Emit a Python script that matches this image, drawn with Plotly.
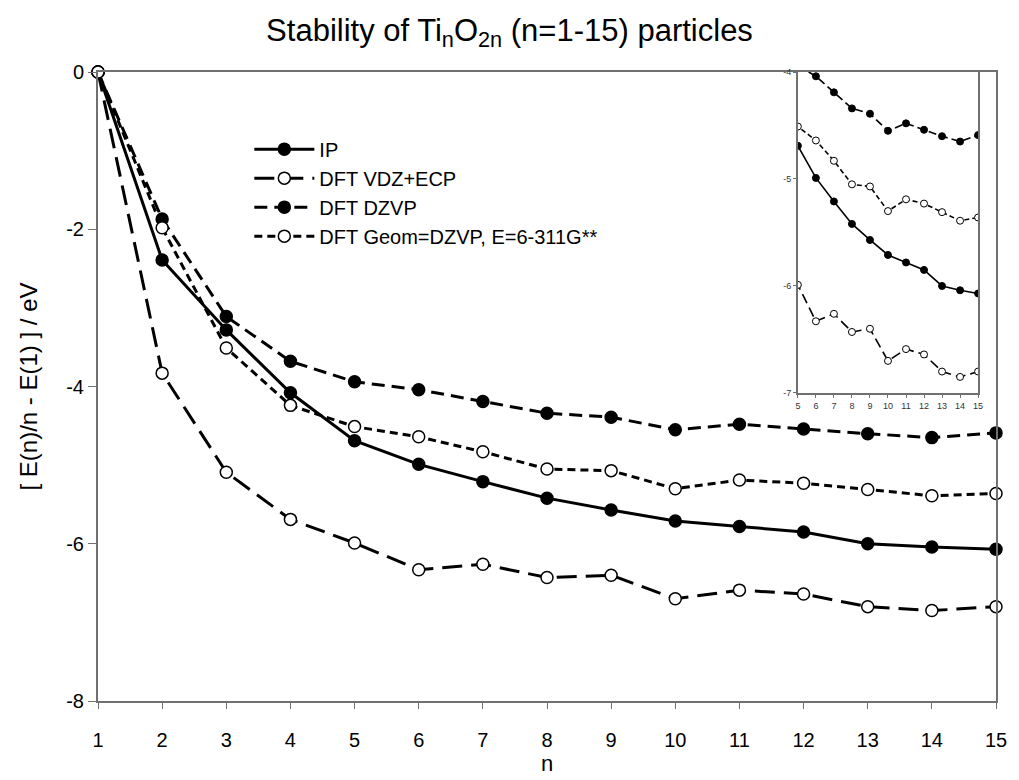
import plotly.graph_objects as go

n = list(range(1, 16))
ip = [0, -2.39, -3.28, -4.08, -4.69, -4.99, -5.21, -5.42, -5.57, -5.71, -5.78, -5.85, -6.00, -6.04, -6.07]
vdz_ecp = [0, -3.83, -5.09, -5.69, -5.99, -6.33, -6.26, -6.43, -6.40, -6.70, -6.59, -6.64, -6.80, -6.85, -6.80]
dzvp = [0, -1.87, -3.11, -3.68, -3.94, -4.04, -4.19, -4.34, -4.39, -4.55, -4.48, -4.54, -4.60, -4.65, -4.59]
geom = [0, -1.98, -3.51, -4.24, -4.51, -4.64, -4.83, -5.05, -5.07, -5.30, -5.19, -5.23, -5.31, -5.39, -5.36]

y_ticks = [0, -2, -4, -6, -8]
y_ticktext = ["0", "-2", "-4", "-6", "-8"]
inset_ticks = [-4, -5, -6, -7]
inset_ticktext = ["-4", "-5", "-6", "-7"]

names = ["IP", "DFT VDZ+ECP", "DFT DZVP", "DFT Geom=DZVP, E=6-311G**"]
series = [ip, vdz_ecp, dzvp, geom]
filled = [True, False, True, False]
dashes_main = ["solid", "20px,9px", "13px,7px", "8px,5px"]
dashes_inset = ["solid", "10px,5px", "8px,4px", "5px,3px"]

FONT = "Liberation Sans, Arial, sans-serif"
AX = "#707070"

fig = go.Figure()
for i, (name, ys, f, d) in enumerate(zip(names, series, filled, dashes_main)):
    fig.add_trace(go.Scatter(
        x=n, y=ys, name=name, mode="lines+markers", legendgroup=f"g{i}",
        line=dict(color="black", width=3, dash=d),
        marker=dict(size=12, color="black" if f else "white",
                    line=dict(color="black", width=1.5)),
        cliponaxis=False, xaxis="x", yaxis="y",
    ))

for i, (name, ys, f, d) in enumerate(zip(names, series, filled, dashes_inset)):
    fig.add_trace(go.Scatter(
        x=n, y=ys, name=name, mode="lines+markers", showlegend=False, legendgroup=f"g{i}",
        line=dict(color="black", width=1.6, dash=d),
        marker=dict(size=7, color="black" if f else "white",
                    line=dict(color="black", width=1)),
        cliponaxis=True, xaxis="x2", yaxis="y2",
    ))

fig.update_layout(
    width=1019, height=780,
    margin=dict(l=98, r=19, t=72, b=75),
    paper_bgcolor="white", plot_bgcolor="white",
    font=dict(family=FONT, color="black"),
    title=dict(text="Stability of Ti<sub>n</sub>O<sub>2n</sub> (n=1-15) particles",
               x=0.5, xref="container", xanchor="center",
               y=1 - 30 / 780, yref="container", yanchor="middle",
               font=dict(size=31, family=FONT, color="black")),
    xaxis=dict(domain=[0, 1], range=[1, 15], tickvals=n, ticks="outside", ticklen=6,
               tickcolor=AX, linecolor=AX, linewidth=2, showline=True, mirror=True,
               showgrid=False, zeroline=False, tickfont=dict(size=20),
               ticklabelstandoff=14,
               title=dict(text="n", font=dict(size=22), standoff=2)),
    yaxis=dict(domain=[0, 1], range=[-8, 0], tickvals=y_ticks, ticktext=y_ticktext,
               ticks="outside", ticklen=8, tickcolor=AX, linecolor=AX, linewidth=2,
               showline=True, mirror=True, showgrid=False, zeroline=False,
               tickfont=dict(size=20),
               title=dict(text="[ E(n)/n - E(1) ] / eV", font=dict(size=24), standoff=22)),
    xaxis2=dict(domain=[(801 - 98) / 902, (982 - 98) / 902], anchor="y2", range=[5, 15],
                tickvals=n[4:], ticks="outside", ticklen=3, tickcolor=AX,
                linecolor=AX, linewidth=1.5, showline=True, mirror=True,
                showgrid=False, zeroline=False, tickfont=dict(size=9, color="#333")),
    yaxis2=dict(domain=[(705 - 395) / 633, 1], anchor="x2", range=[-7, -4],
                tickvals=inset_ticks, ticktext=inset_ticktext, ticks="outside", ticklen=3,
                tickcolor=AX, linecolor=AX, linewidth=1.5, showline=True, mirror=True,
                showgrid=False, zeroline=False, tickfont=dict(size=9, color="#333")),
    legend=dict(x=(250 - 98) / 902, y=(705 - 130) / 633, xanchor="left", yanchor="top",
                bgcolor="rgba(0,0,0,0)", borderwidth=0, font=dict(size=20),
                itemwidth=60, tracegroupgap=0),
    showlegend=True,
)

fig.write_html("out.html")
